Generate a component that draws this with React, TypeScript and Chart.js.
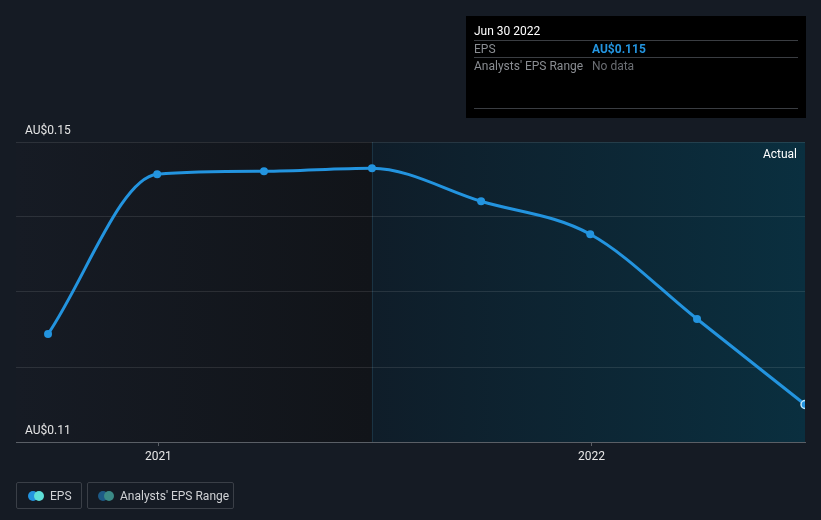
import React, { useEffect, useRef } from "react";
import { Chart, registerables } from "chart.js";

Chart.register(...registerables);

const dates = ["2020-09-30", "2020-12-31", "2021-03-31", "2021-06-30", "2021-09-30", "2021-12-31", "2022-03-31", "2022-06-30"];
const epsValues = [0.1244, 0.1457, 0.1461, 0.1465, 0.1421, 0.1377, 0.1264, 0.115];
const yearTicks = ["2021-01-01", "2022-01-01"];
const yLabelTicks = [0.15, 0.11];
const axisStart = "2020-09-03";
const forecastStart = "2021-06-30";
const tooltipDate = "Jun 30 2022";
const tooltipValue = "AU$0.115";

const t = (s: string) => new Date(s + "T00:00:00Z").getTime();
const FONT = "Roboto, 'Noto Sans', sans-serif";

export default function App() {
  const ref = useRef<HTMLCanvasElement | null>(null);

  useEffect(() => {
    document.body.style.margin = "0";
    document.body.style.background = "#151b24";
    const canvas = ref.current!;
    const bgPlugin = {
      id: "bg",
      beforeDraw(chart: any) {
        const { ctx, chartArea: ca, scales } = chart;
        ctx.save();
        ctx.fillStyle = "#151b24";
        ctx.fillRect(0, 0, chart.width, chart.height);
        const xf = scales.x.getPixelForValue(t(forecastStart));
        let g = ctx.createLinearGradient(ca.left, 0, xf, 0);
        g.addColorStop(0, "#161b24");
        g.addColorStop(1, "#111419");
        ctx.fillStyle = g;
        ctx.fillRect(ca.left, ca.top, xf - ca.left, ca.bottom - ca.top);
        g = ctx.createLinearGradient(xf, 0, ca.right, 0);
        g.addColorStop(0, "#0f1d29");
        g.addColorStop(1, "#0a2f3f");
        ctx.fillStyle = g;
        ctx.fillRect(xf, ca.top, ca.right - xf, ca.bottom - ca.top);
        ctx.strokeStyle = "rgba(40,80,100,0.45)";
        ctx.lineWidth = 1;
        ctx.beginPath();
        ctx.moveTo(Math.round(xf) + 0.5, ca.top);
        ctx.lineTo(Math.round(xf) + 0.5, ca.bottom);
        ctx.stroke();
        ctx.restore();
      },
      afterDraw(chart: any) {
        const { ctx, chartArea: ca } = chart;
        ctx.save();
        ctx.fillStyle = "#ffffff";
        ctx.font = `12px ${FONT}`;
        ctx.textAlign = "right";
        ctx.textBaseline = "middle";
        ctx.fillText("Actual", ca.right - 8, 155);
        // tooltip box
        const bx = 466, by = 16, bw = 340, bh = 102;
        ctx.fillStyle = "#000000";
        ctx.fillRect(bx, by, bw, bh);
        ctx.textAlign = "left";
        ctx.fillStyle = "#ffffff";
        ctx.font = `12px ${FONT}`;
        ctx.fillText(tooltipDate, bx + 8, 31.5);
        ctx.strokeStyle = "#3a3d42";
        ctx.lineWidth = 1;
        [40.5, 57.5, 108.5].forEach((y) => {
          ctx.beginPath();
          ctx.moveTo(bx + 8, y);
          ctx.lineTo(bx + bw - 8, y);
          ctx.stroke();
        });
        ctx.fillStyle = "#8a8d92";
        ctx.fillText("EPS", bx + 8, 49.5);
        ctx.fillText("Analysts' EPS Range", bx + 8, 67);
        ctx.fillStyle = "#6b6e73";
        ctx.fillText("No data", bx + 126, 67);
        ctx.fillStyle = "#2394df";
        ctx.font = `bold 12px ${FONT}`;
        ctx.fillText(tooltipValue, bx + 126, 49.5);
        ctx.restore();
      },
    };

    const n = epsValues.length;
    const chart = new Chart(canvas, {
      type: "line",
      data: {
        datasets: [
          {
            label: "EPS",
            data: dates.map((d, i) => ({ x: t(d), y: epsValues[i] })),
            borderColor: "#2394df",
            borderWidth: 3,
            backgroundColor: "#2394df",
            pointBackgroundColor: "#2394df",
            pointBorderColor: epsValues.map((_, i) => (i === n - 1 ? "#bfe9ff" : "#2394df")),
            pointBorderWidth: epsValues.map((_, i) => (i === n - 1 ? 1.5 : 0)),
            pointRadius: 4,
            cubicInterpolationMode: "monotone",
            fill: false,
          },
        ],
      },
      plugins: [bgPlugin],
      options: {
        animation: false,
        responsive: false,
        maintainAspectRatio: false,
        events: [],
        layout: { padding: { left: 16, right: 16, top: 142, bottom: 38 } },
        plugins: { legend: { display: false }, tooltip: { enabled: false } },
        scales: {
          x: {
            type: "linear",
            min: t(axisStart),
            max: t(dates[dates.length - 1]),
            afterBuildTicks: (scale: any) => {
              scale.ticks = yearTicks.map((d) => ({ value: t(d) }));
            },
            afterFit: (scale: any) => {
              scale.height = 40;
            },
            ticks: {
              color: "#e6e6e6",
              font: { family: FONT, size: 12 },
              padding: 4,
              maxRotation: 0,
              callback: (v: any) => String(new Date(v).getUTCFullYear()),
            },
            grid: { drawOnChartArea: false, color: "#5a5f66", tickLength: 4 },
            border: { color: "#5a5f66", width: 1 },
          },
          y: {
            min: 0.11,
            max: 0.15,
            afterFit: (scale: any) => {
              scale.width = 0;
            },
            afterBuildTicks: (scale: any) => {
              scale.ticks = [0.11, 0.12, 0.13, 0.14, 0.15].map((v) => ({ value: v }));
            },
            ticks: {
              mirror: true,
              padding: 9,
              labelOffset: -11,
              color: "#e6e6e6",
              font: { family: FONT, size: 12 },
              callback: (v: any) => (yLabelTicks.some((l) => Math.abs(l - v) < 1e-9) ? "AU$" + Number(v).toFixed(2) : ""),
            },
            grid: { color: "rgba(255,255,255,0.1)", drawTicks: false },
            border: { display: false },
          },
        },
      },
    } as any);
    return () => chart.destroy();
  }, []);

  const box: React.CSSProperties = {
    position: "absolute",
    top: 482,
    height: 27,
    border: "1px solid #3a3f47",
    borderRadius: 2,
    boxSizing: "border-box",
    display: "flex",
    alignItems: "center",
    color: "#d0d2d5",
    fontFamily: FONT,
    fontSize: 12,
  };
  const dot = (c: string, left: number): React.CSSProperties => ({
    position: "absolute",
    left,
    top: 8,
    width: 10,
    height: 10,
    borderRadius: 5,
    background: c,
  });

  return (
    <div style={{ position: "fixed", left: 0, top: 0, width: 821, height: 520, background: "#151b24" }}>
      <canvas ref={ref} width={821} height={520} style={{ display: "block", width: 821, height: 520 }} />
      <div style={{ ...box, left: 16, width: 66 }}>
        <div style={dot("#2394df", 11)} />
        <div style={dot("#5ee0d8", 17)} />
        <span style={{ position: "absolute", left: 33 }}>EPS</span>
      </div>
      <div style={{ ...box, left: 87, width: 147 }}>
        <div style={dot("#1d5a86", 10)} />
        <div style={dot("#3b8a86", 16)} />
        <span style={{ position: "absolute", left: 32 }}>Analysts' EPS Range</span>
      </div>
    </div>
  );
}
